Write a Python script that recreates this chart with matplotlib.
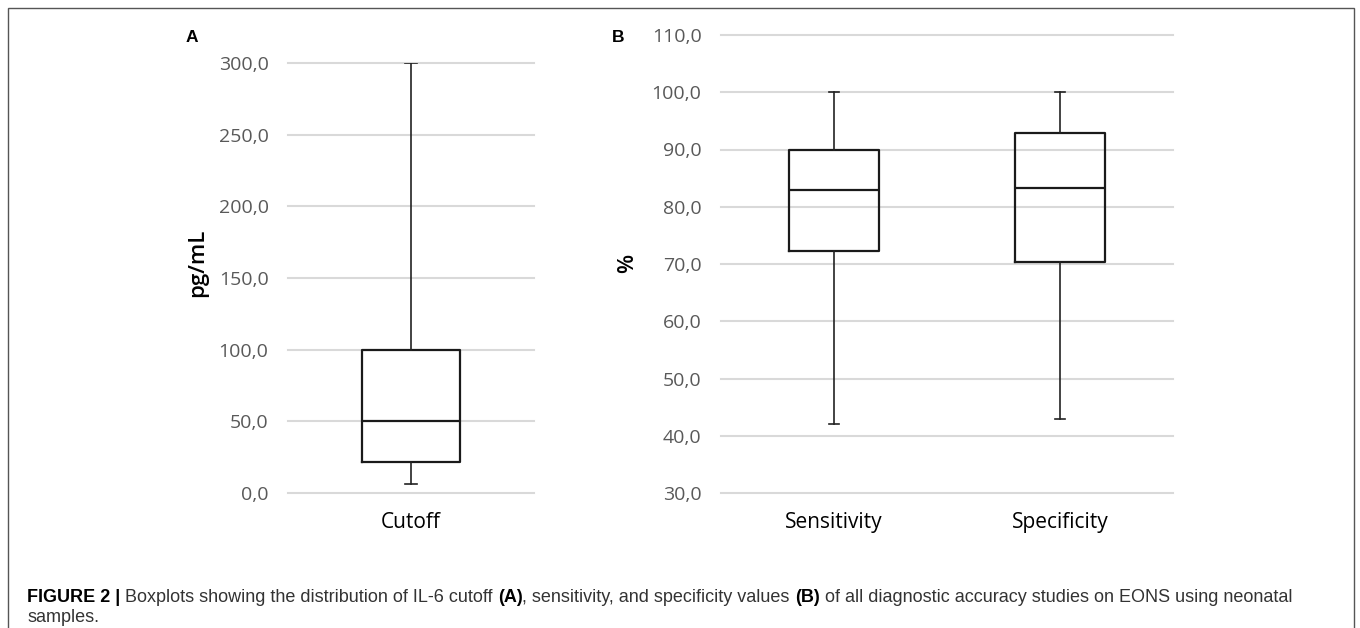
import matplotlib
matplotlib.use("Agg")
import matplotlib.pyplot as plt
from matplotlib.patches import Rectangle

# summary statistics
cut_labels = ["Cutoff"]
cut_min = [6.5]
cut_q1 = [21.5]
cut_med = [50.0]
cut_q3 = [100.0]
cut_max = [300.0]

acc_labels = ["Sensitivity", "Specificity"]
acc_min = [42.0, 43.0]
acc_q1 = [72.3, 70.4]
acc_med = [83.0, 83.2]
acc_q3 = [90.0, 92.9]
acc_max = [100.0, 100.0]

a_ticks = [0, 50, 100, 150, 200, 250, 300]
b_ticks = [30, 40, 50, 60, 70, 80, 90, 100, 110]

W, H = 1360, 628
fig = plt.figure(figsize=(W / 100, H / 100), dpi=100)

tick_font = ["Open Sans", "DejaVu Sans"]
grid_c = "#d9d9d9"


def make_stats(labels, lo, q1, med, q3, hi):
    return [dict(label=l, whislo=a, q1=b, med=c, q3=d, whishi=e, fliers=[])
            for l, a, b, c, d, e in zip(labels, lo, q1, med, q3, hi)]


def style_axis(ax, ticks):
    ax.set_yticks(ticks)
    ax.set_yticklabels([("%.1f" % t).replace(".", ",") for t in ticks],
                       family=tick_font, fontsize=14, color="#595959")
    ax.tick_params(axis="y", length=0, pad=14)
    ax.tick_params(axis="x", length=0, pad=14)
    for lab in ax.get_xticklabels():
        lab.set_family(tick_font)
        lab.set_fontsize(15)
        lab.set_color("black")
    for s in ax.spines.values():
        s.set_visible(False)
    ax.yaxis.grid(True, color=grid_c, lw=1.5)
    for gl in ax.get_ygridlines():
        gl.set_clip_on(False)
    ax.set_axisbelow(True)


box_kw = dict(widths=0.4, capwidths=0.045, showfliers=False, patch_artist=False,
              boxprops=dict(color="#1a1a1a", lw=1.6),
              medianprops=dict(color="#1a1a1a", lw=1.6),
              whiskerprops=dict(color="#222222", lw=1.2),
              capprops=dict(color="#222222", lw=1.2))

# panel A
axA = fig.add_axes([288 / W, 135 / H, 246 / W, 430 / H])
axA.bxp(make_stats(cut_labels, cut_min, cut_q1, cut_med, cut_q3, cut_max),
        positions=[1], **box_kw)
axA.set_xlim(0.5, 1.5)
axA.set_ylim(0, 300)
style_axis(axA, a_ticks)

# panel B
axB = fig.add_axes([721 / W, 135 / H, 452 / W, 458 / H])
axB.bxp(make_stats(acc_labels, acc_min, acc_q1, acc_med, acc_q3, acc_max),
        positions=[1, 2], **box_kw)
axB.set_xlim(0.5, 2.5)
axB.set_ylim(30, 110)
style_axis(axB, b_ticks)

fig.text(198 / W, 1 - 263 / H, "pg/mL", rotation=90, ha="center", va="center",
         family=tick_font, fontsize=16, fontweight="semibold", color="black")
fig.text(628 / W, 1 - 263 / H, "%", rotation=90, ha="center", va="center",
         family=tick_font, fontsize=16, fontweight="semibold", color="black")
fig.text(192 / W, 1 - 38 / H, "A", ha="center", va="center",
         family=["Liberation Sans", "DejaVu Sans"], fontsize=12.5, fontweight="bold")
fig.text(618 / W, 1 - 37 / H, "B", ha="center", va="center",
         family=["Liberation Sans", "DejaVu Sans"], fontsize=12.5, fontweight="bold")

# frame around the figure
fig.add_artist(Rectangle((8 / W, -0.05), (1354 - 8) / W, 1 - 8 / H + 0.05,
                         transform=fig.transFigure, fill=False,
                         ec="#555555", lw=1.0))

# caption with bold parts
cap_font = ["Liberation Sans Narrow", "Liberation Sans", "DejaVu Sans"]
line1 = [("FIGURE 2 | ", "bold", "black"),
         ("Boxplots showing the distribution of IL-6 cutoff ", "normal", "#333333"),
         ("(A)", "bold", "black"),
         (", sensitivity, and specificity values ", "normal", "#333333"),
         ("(B)", "bold", "black"),
         (" of all diagnostic accuracy studies on EONS using neonatal", "normal", "#333333")]
line2 = [("samples.", "normal", "#333333")]

fig.canvas.draw()
renderer = fig.canvas.get_renderer()
for segs, ypx in [(line1, 597), (line2, 617)]:
    x = 27 / W
    for txt, wt, col in segs:
        t = fig.text(x, 1 - ypx / H, txt, ha="left", va="center",
                     family=cap_font, fontsize=13, fontweight=wt, color=col)
        bb = t.get_window_extent(renderer)
        x += bb.width / W

fig.savefig("out.png", dpi=100)
